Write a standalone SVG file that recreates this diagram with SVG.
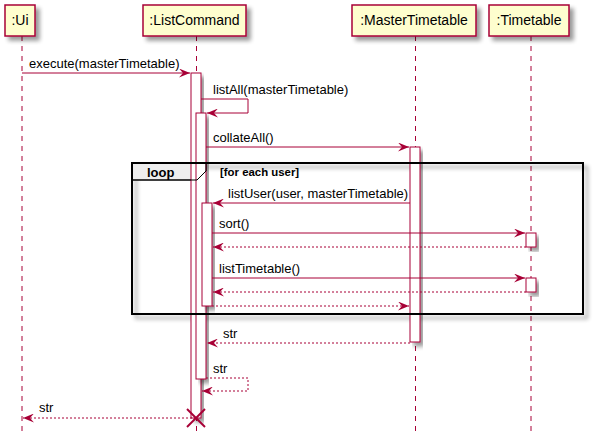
<svg xmlns="http://www.w3.org/2000/svg" width="596" height="441" viewBox="0 0 596 441">
<defs>
<filter id="sh" x="-20%" y="-20%" width="150%" height="150%">
<feGaussianBlur in="SourceAlpha" stdDeviation="2" result="b"/>
<feOffset in="b" dx="4" dy="4" result="o"/>
<feComponentTransfer in="o" result="c"><feFuncA type="linear" slope="0.4"/></feComponentTransfer>
<feMerge><feMergeNode in="c"/><feMergeNode in="SourceGraphic"/></feMerge>
</filter>
<marker id="ah" viewBox="0 0 11 9" refX="11" refY="4.5" markerWidth="11" markerHeight="9" markerUnits="userSpaceOnUse" orient="auto">
<polygon points="0,0 11,4.5 0,9 4,4.5" fill="#A80036"/>
</marker>
</defs>
<style>
.part{fill:#FEFECE;stroke:#A80036;stroke-width:1.5}
.pt{font-family:"Liberation Sans",Arial,sans-serif;font-size:14px;fill:#000;text-anchor:middle}
.life{stroke:#A80036;stroke-width:1;stroke-dasharray:5,5;fill:none}
.act{fill:#FFFFFF;stroke:#A80036;stroke-width:1}
.msg{stroke:#A80036;stroke-width:1;fill:none}
.ret{stroke:#A80036;stroke-width:1;fill:none;stroke-dasharray:2,2}
.mt{font-family:"Liberation Sans",Arial,sans-serif;font-size:13px;fill:#000}
.lt{font-family:"Liberation Sans",Arial,sans-serif;font-weight:bold;fill:#000}
</style>

<g id="lifelines">
<line class="life" x1="22" y1="36" x2="22" y2="436"/>
<line class="life" x1="196.5" y1="36" x2="196.5" y2="436"/>
<line class="life" x1="415.5" y1="36" x2="415.5" y2="436"/>
<line class="life" x1="531" y1="36" x2="531" y2="436"/>
</g>

<g id="ui">
<rect class="part" x="5" y="5" width="30" height="31" filter="url(#sh)"/>
<text class="pt" x="20" y="25">:Ui</text>
</g>
<g id="listcommand">
<rect class="part" x="143" y="5" width="103" height="31" filter="url(#sh)"/>
<text class="pt" x="194.5" y="25">:ListCommand</text>
</g>
<g id="mastertimetable">
<rect class="part" x="352" y="5" width="124" height="31" filter="url(#sh)"/>
<text class="pt" x="414" y="25">:MasterTimetable</text>
</g>
<g id="timetable">
<rect class="part" x="489" y="5" width="80" height="31" filter="url(#sh)"/>
<text class="pt" x="529" y="25">:Timetable</text>
</g>

<g id="loop-frame-bg">
<rect x="132" y="163" width="451" height="151" fill="none" stroke="#000" stroke-width="2" filter="url(#sh)"/>
<polygon points="132,163 206,163 206,171 197,180 132,180" fill="#EEEEEE" stroke="#000" stroke-width="1"/>
</g>

<g id="activations">
<rect class="act" x="191" y="73" width="10" height="345" filter="url(#sh)"/>
<rect class="act" x="196" y="113" width="10" height="266" filter="url(#sh)"/>
<rect class="act" x="410" y="147" width="10" height="195" filter="url(#sh)"/>
<rect class="act" x="202" y="203" width="10" height="103" filter="url(#sh)"/>
<rect class="act" x="526" y="233" width="10" height="14" filter="url(#sh)"/>
<rect class="act" x="526" y="278" width="10" height="14" filter="url(#sh)"/>
</g>

<g id="loop-frame">
<rect x="132" y="163" width="451" height="151" fill="none" stroke="#000" stroke-width="2"/>
<polyline points="206,163 206,171 197,180 132,180" fill="none" stroke="#000" stroke-width="1"/>
<text class="lt" x="147" y="177" font-size="13">loop</text>
<text class="lt" x="220" y="176" font-size="11.4">[for each user]</text>
</g>

<g id="connectors">
<line class="msg" x1="22" y1="73" x2="190" y2="73" marker-end="url(#ah)"/>
<polyline class="msg" points="201,99 248,99 248,113 207,113" marker-end="url(#ah)"/>
<line class="msg" x1="206" y1="147" x2="409" y2="147" marker-end="url(#ah)"/>
<line class="msg" x1="410" y1="203" x2="213" y2="203" marker-end="url(#ah)"/>
<line class="msg" x1="212" y1="233" x2="525" y2="233" marker-end="url(#ah)"/>
<line class="ret" x1="526" y1="247" x2="213" y2="247" marker-end="url(#ah)"/>
<line class="msg" x1="212" y1="278" x2="525" y2="278" marker-end="url(#ah)"/>
<line class="ret" x1="526" y1="292" x2="213" y2="292" marker-end="url(#ah)"/>
<line class="ret" x1="212" y1="306" x2="409" y2="306" marker-end="url(#ah)"/>
<line class="ret" x1="410" y1="343" x2="207" y2="343" marker-end="url(#ah)"/>
<polyline class="ret" points="206,378 248,378 248,391 202,391" marker-end="url(#ah)"/>
<line class="ret" x1="196" y1="418" x2="23" y2="418" marker-end="url(#ah)"/>
<g stroke="#A80036" stroke-width="2">
<line x1="187" y1="409" x2="205" y2="427"/>
<line x1="205" y1="409" x2="187" y2="427"/>
</g>
</g>

<g id="labels">
<text class="mt" x="29" y="68">execute(masterTimetable)</text>
<text class="mt" x="213" y="94">listAll(masterTimetable)</text>
<text class="mt" x="213" y="142">collateAll()</text>
<text class="mt" x="228" y="198">listUser(user, masterTimetable)</text>
<text class="mt" x="219" y="228">sort()</text>
<text class="mt" x="219" y="273">listTimetable()</text>
<text class="mt" x="223" y="338">str</text>
<text class="mt" x="213" y="373">str</text>
<text class="mt" x="39" y="412">str</text>
</g>
</svg>
